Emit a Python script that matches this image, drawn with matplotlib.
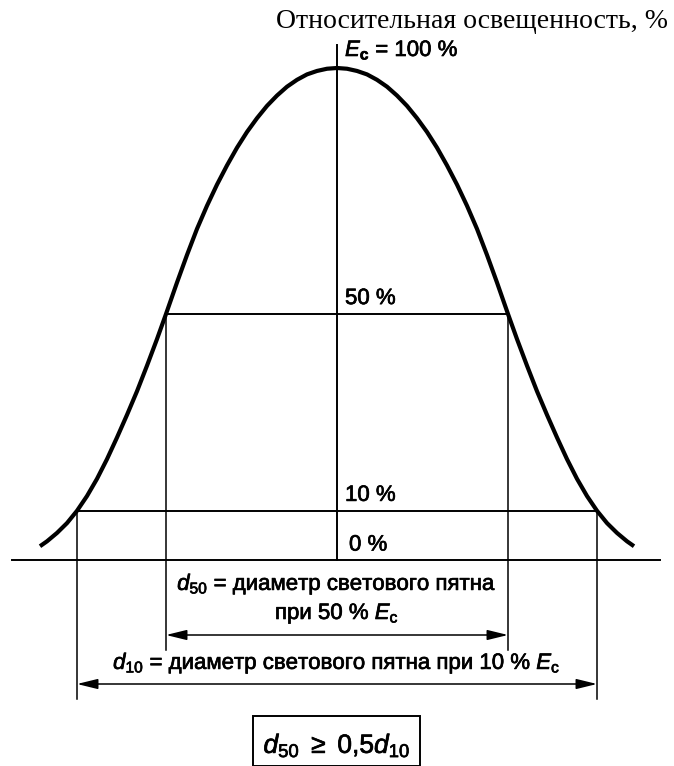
import numpy as np
import matplotlib
matplotlib.use("Agg")
import matplotlib.pyplot as plt
import matplotlib.patheffects as pe
from matplotlib.patches import Rectangle

# relative illuminance profile (one half, symmetric)
offset = [0, 10, 20, 30, 40, 50, 60, 70, 80, 90, 100, 110, 120, 130, 140, 150,
          160, 171, 180, 190, 200, 210, 220, 230, 240, 250, 260, 270, 280, 290, 297]
rel_E = [100, 99.85, 99.4, 98.7, 97.6, 96.2, 94.4, 92.3, 89.8, 87.0, 83.8, 80.2,
         76.3, 72.0, 67.3, 62.0, 56.4, 50, 44.9, 39.5, 34.3, 29.5, 24.9, 20.5,
         16.5, 13.0, 10.0, 7.5, 5.5, 3.8, 2.8]
levels = [50, 10]
level_labels = ["50 %", "10 %"]

plt.rcParams['font.family'] = ['Liberation Sans', 'DejaVu Sans']
plt.rcParams['mathtext.fontset'] = 'custom'
plt.rcParams['mathtext.rm'] = 'Liberation Sans'
plt.rcParams['mathtext.it'] = 'Liberation Sans:italic'
plt.rcParams['mathtext.bf'] = 'Liberation Sans:bold'

W, H = 674, 766
BASE, SCALE = 560, 4.92   # baseline row and pixels per percent


def py(row):
    # pixel row of the original sheet -> percent units
    return (BASE - row) / SCALE


off = np.array(offset, dtype=float)
val = np.array(rel_E, dtype=float)
x = np.concatenate([-off[::-1], off[1:]])
y = np.concatenate([val[::-1], val[1:]])

fig = plt.figure(figsize=(W / 100, H / 100), dpi=100)
ax = fig.add_axes([0, 0, 1, 1])
ax.set_xlim(-W / 2, W / 2)
ax.set_ylim(py(H), py(0))
ax.axis('off')

lw = 1.4
fs = 16
heavy = [pe.withStroke(linewidth=0.5, foreground='black')]  # scan looks a bit heavier
# curve
ax.plot(x, y, color='black', lw=3.0, solid_capstyle='butt', solid_joinstyle='round')
# vertical axis and baseline
ax.plot([0, 0], [0, py(45)], color='black', lw=lw)
ax.plot([-325, 323], [0, 0], color='black', lw=lw)

# level lines and drop lines
half = {}
for lev, lab in zip(levels, level_labels):
    h = np.interp(lev, val[::-1], off[::-1])
    half[lev] = h
    ax.plot([-h, h], [lev, lev], color='black', lw=lw)
    ax.text(8, lev + 1.0, lab, fontsize=fs, ha='left', va='bottom', path_effects=heavy)
ax.text(12, 0.9, "0 %", fontsize=fs, ha='left', va='bottom', path_effects=heavy)

drop_end = {50: py(650), 10: py(699)}
for lev in levels:
    h = half[lev]
    for s in (-1, 1):
        ax.plot([s * h, s * h], [lev, drop_end[lev]], color='black', lw=1.1)

# arrows
arrow_y = {50: py(635), 10: py(684)}
for lev in levels:
    h = half[lev]
    ax.annotate('', xy=(h, arrow_y[lev]), xytext=(-h, arrow_y[lev]),
                arrowprops=dict(arrowstyle='<|-|>,head_length=0.9,head_width=0.22',
                                mutation_scale=14, lw=1.1, color='black',
                                shrinkA=0, shrinkB=0))

# titles and labels
ax.text(331, py(28), "Относительная освещенность, %", fontsize=20,
        family='Liberation Serif', ha='right', va='baseline')
ax.text(8, py(56), r"$E_\mathbf{c}$ = 100 %", fontsize=fs, ha='left', va='baseline',
        path_effects=heavy)

ax.text(0, py(590), r"$d_{50}$ = диаметр светового пятна", fontsize=fs,
        ha='center', va='baseline', path_effects=heavy)
ax.text(0, py(619), r"при 50 % $E_\mathrm{c}$", fontsize=fs,
        ha='center', va='baseline', path_effects=heavy)
ax.text(0, py(669), r"$d_{10}$ = диаметр светового пятна при 10 % $E_\mathrm{c}$",
        fontsize=fs, ha='center', va='baseline', path_effects=heavy)

# formula box
ax.add_patch(Rectangle((253 - W / 2, py(766)), 167, py(716) - py(766),
                       fill=False, ec='black', lw=1.4))
ax.text(0, py(753), r"$d_{50}$ $\geq$ 0,5$d_{10}$", fontsize=19,
        ha='center', va='baseline', path_effects=heavy)

fig.savefig("out.png", dpi=100)
